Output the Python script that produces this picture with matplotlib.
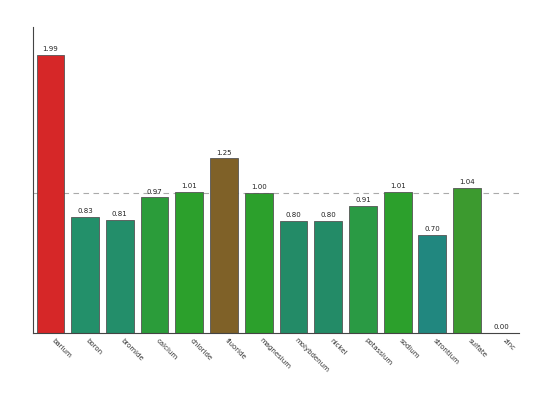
import matplotlib
matplotlib.use("Agg")
import matplotlib.pyplot as plt

categories = ["barium", "boron", "bromide", "calcium", "chloride", "fluoride",
              "magnesium", "molybdenum", "nickel", "potassium", "sodium",
              "strontium", "sulfate", "zinc"]
values = [1.99, 0.83, 0.81, 0.97, 1.01, 1.25, 1.00, 0.80, 0.80, 0.91, 1.01, 0.70, 1.04, 0.00]
colors = ["#d62728", "#23906a", "#238e6a", "#2b9c3a", "#2ca02c", "#7f6128",
          "#2ca02c", "#238b67", "#238b67", "#2a9a44", "#2ca02c", "#21877f",
          "#3c9a2f", "#2ca02c"]
reference = 1.0

fig = plt.figure(figsize=(5.33, 4.0), dpi=100)
ax = fig.add_axes([0.062, 0.1675, 0.912, 0.765])

x = list(range(len(categories)))
bars = ax.bar(x, values, width=0.8, color=colors, edgecolor="#555555", linewidth=0.6)
ax.axhline(reference, color="#aaaaaa", linestyle=(0, (5, 4)), linewidth=0.8, zorder=0)

for xi, v in zip(x, values):
    ax.text(xi, v + 0.02, f"{v:.2f}", ha="center", va="bottom", fontsize=5, color="#222222")

ax.set_xlim(-0.5, 13.5)
ax.set_ylim(0, 2.19)
ax.set_yticks([])
ax.set_xticks(x)
ax.set_xticklabels(categories, rotation=-45, ha="left", va="top", rotation_mode="default",
                   fontsize=5, color="#333333")
ax.tick_params(axis="x", length=0, pad=3)
for s in ["top", "right"]:
    ax.spines[s].set_visible(False)
for s in ["left", "bottom"]:
    ax.spines[s].set_color("#444444")
    ax.spines[s].set_linewidth(0.8)

fig.savefig("out.png", dpi=100)
